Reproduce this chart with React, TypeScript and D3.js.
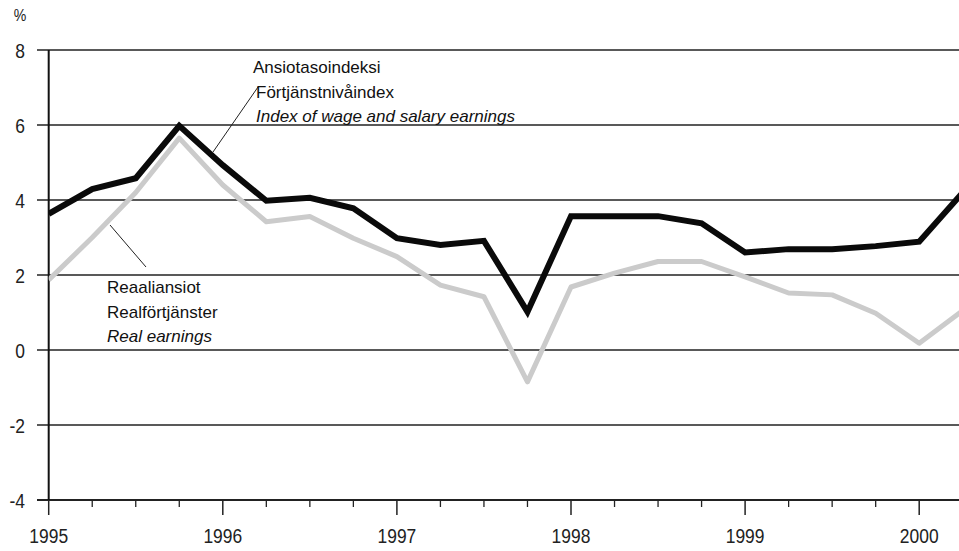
import React from "react";
import * as d3 from "d3";

const quarters: number[] = [
  1995, 1995.25, 1995.5, 1995.75, 1996, 1996.25, 1996.5, 1996.75,
  1997, 1997.25, 1997.5, 1997.75, 1998, 1998.25, 1998.5, 1998.75,
  1999, 1999.25, 1999.5, 1999.75, 2000, 2000.25,
];
const wageIndex: number[] = [
  3.63, 4.29, 4.58, 5.98, 4.93, 3.98, 4.06, 3.78, 2.98, 2.8, 2.91, 1.02,
  3.57, 3.57, 3.57, 3.38, 2.6, 2.69, 2.69, 2.77, 2.89, 4.2,
];
const realEarnings: number[] = [
  1.87, 3.0, 4.2, 5.65, 4.4, 3.42, 3.56, 2.98, 2.49, 1.73, 1.42, -0.85,
  1.68, 2.05, 2.36, 2.36, 1.95, 1.52, 1.47, 0.98, 0.18, 1.05,
];
const yTicks: number[] = [-4, -2, 0, 2, 4, 6, 8];
const yearTicks: number[] = [1995, 1996, 1997, 1998, 1999, 2000];
const minorTicks: number[] = [
  1995.25, 1995.5, 1995.75, 1996.25, 1996.5, 1996.75, 1997.25, 1997.5, 1997.75,
  1998.25, 1998.5, 1998.75, 1999.25, 1999.5, 1999.75, 2000.25,
];
const wageLabel: string[] = ["Ansiotasoindeksi", "Förtjänstnivåindex", "Index of wage and salary earnings"];
const realLabel: string[] = ["Reaaliansiot", "Realförtjänster", "Real earnings"];

const W = 959;
const H = 551;
const FONT = '"Liberation Sans", Arial, sans-serif';
const NARROW = 0.83;

export default function App() {
  const x = d3.scaleLinear().domain([1995, 2000]).range([48.7, 919.2]);
  const y = d3.scaleLinear().domain([-4, 8]).range([500, 50]);
  const gridLeft = 37;
  const right = W;

  const lineGen = d3
    .line<number>()
    .x((_, i) => x(quarters[i]))
    .y((d) => y(d));

  return (
    <svg
      width={W}
      height={H}
      style={{ position: "absolute", left: 0, top: 0, background: "#fff" }}
      fontFamily={FONT}
    >
      <defs>
        <clipPath id="plot">
          <rect x={x(1995)} y={0} width={right - x(1995)} height={H} />
        </clipPath>
      </defs>
      <rect x={0} y={0} width={W} height={H} fill="#fff" />

      {/* percent label */}
      <text transform={`translate(20,21) scale(${NARROW},1)`} fontSize={17} textAnchor="middle" fill="#222">%</text>

      {/* gridlines */}
      {yTicks.map((t) => (
        <line
          key={"g" + t}
          x1={gridLeft}
          x2={right}
          y1={y(t)}
          y2={y(t)}
          stroke="#222"
          strokeWidth={t === -4 ? 2 : 1.4}
        />
      ))}
      {yTicks.map((t) => (
        <text
          key={"yl" + t}
          transform={`translate(25,${y(t) + 7.5}) scale(${NARROW},1)`}
          fontSize={21}
          textAnchor="end"
          fill="#222"
        >
          {t}
        </text>
      ))}

      {/* y axis */}
      <line x1={x(1995)} x2={x(1995)} y1={y(8)} y2={y(-4)} stroke="#111" strokeWidth={2} />

      {/* x ticks */}
      {yearTicks.map((t) => (
        <g key={"xt" + t}>
          <line x1={x(t)} x2={x(t)} y1={y(-4)} y2={y(-4) + 15} stroke="#222" strokeWidth={1.5} />
          <text
            transform={`translate(${x(t)},543) scale(${NARROW},1)`}
            fontSize={21}
            textAnchor="middle"
            fill="#222"
          >
            {t}
          </text>
        </g>
      ))}
      {minorTicks.map((t) => (
        <line key={"mt" + t} x1={x(t)} x2={x(t)} y1={y(-4)} y2={y(-4) + 7} stroke="#222" strokeWidth={1.3} />
      ))}

      {/* series */}
      <g clipPath="url(#plot)">
        <path d={lineGen(realEarnings) || ""} fill="none" stroke="#cbcbcb" strokeWidth={5} strokeLinejoin="round" />
        <path d={lineGen(wageIndex) || ""} fill="none" stroke="#0a0a0a" strokeWidth={6} strokeLinejoin="miter" />
      </g>

      {/* annotations */}
      <line x1={258} y1={87} x2={213} y2={152} stroke="#222" strokeWidth={1} />
      {wageLabel.map((s, i) => (
        <text
          key={"wl" + i}
          x={i === 0 ? 253 : 256}
          y={73 + i * 24.5}
          fontSize={17}
          fontStyle={i === 2 ? "italic" : "normal"}
          fill="#111"
        >
          {s}
        </text>
      ))}
      <line x1={110} y1={225} x2={146} y2={267} stroke="#222" strokeWidth={1} />
      {realLabel.map((s, i) => (
        <text
          key={"rl" + i}
          x={107}
          y={293 + i * 24.5}
          fontSize={17}
          fontStyle={i === 2 ? "italic" : "normal"}
          fill="#111"
        >
          {s}
        </text>
      ))}
    </svg>
  );
}
